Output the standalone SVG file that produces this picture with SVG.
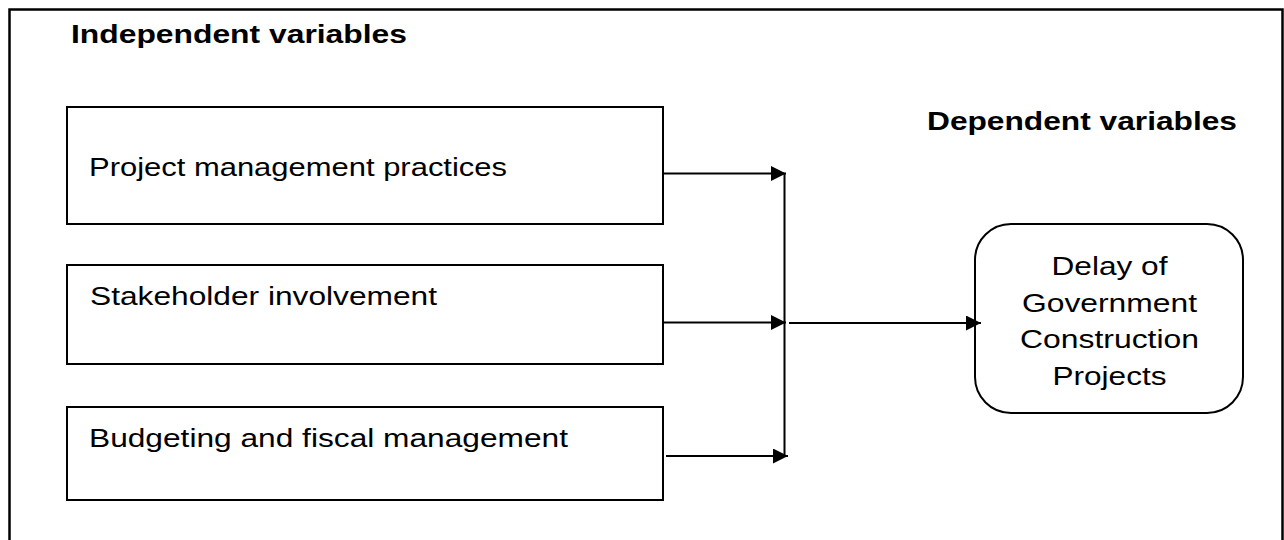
<svg xmlns="http://www.w3.org/2000/svg" width="1284" height="540" viewBox="0 0 1284 540">
<style>
.frame{fill:none;stroke:#000;stroke-width:2.5}
.box{fill:#fff;stroke:#000;stroke-width:2}
.t{font-family:"Liberation Sans",Arial,sans-serif;font-size:26.5px;fill:#000}
.b{font-weight:bold}
.c{text-anchor:middle}
.conn{fill:none;stroke:#000;stroke-width:2}
</style>
<defs>
<marker id="ah" markerWidth="15" markerHeight="15" refX="15" refY="7.5" orient="auto" markerUnits="userSpaceOnUse">
<path d="M0,0 L15,7.5 L0,15 Z" fill="#000"/>
</marker>
</defs>
<rect class="frame" x="9.5" y="9.5" width="1273" height="570"/>
<text class="t b" x="71" y="43" textLength="336" lengthAdjust="spacingAndGlyphs">Independent variables</text>
<text class="t b" x="927" y="130" textLength="310" lengthAdjust="spacingAndGlyphs">Dependent variables</text>
<g id="node-pmp">
<rect class="box" x="67" y="107" width="596" height="117"/>
<text class="t" x="89" y="176" textLength="418" lengthAdjust="spacingAndGlyphs">Project management practices</text>
</g>
<g id="node-si">
<rect class="box" x="67" y="265" width="596" height="99"/>
<text class="t" x="90" y="305" textLength="347" lengthAdjust="spacingAndGlyphs">Stakeholder involvement</text>
</g>
<g id="node-bfm">
<rect class="box" x="67" y="407" width="596" height="93"/>
<text class="t" x="89" y="447" textLength="479" lengthAdjust="spacingAndGlyphs">Budgeting and fiscal management</text>
</g>
<g id="node-delay">
<rect class="box" x="975" y="224" width="268" height="189" rx="36" ry="36"/>
<text class="t c" x="1109.5" y="275" textLength="116" lengthAdjust="spacingAndGlyphs">Delay of</text>
<text class="t c" x="1109.5" y="311.5" textLength="175" lengthAdjust="spacingAndGlyphs">Government</text>
<text class="t c" x="1109.5" y="348" textLength="179" lengthAdjust="spacingAndGlyphs">Construction</text>
<text class="t c" x="1109.5" y="385" textLength="114" lengthAdjust="spacingAndGlyphs">Projects</text>
</g>
<g id="connectors">
<line class="conn" x1="663" y1="173.5" x2="786" y2="173.5" marker-end="url(#ah)"/>
<line class="conn" x1="664" y1="322.5" x2="786" y2="322.5" marker-end="url(#ah)"/>
<line class="conn" x1="666" y1="456" x2="788" y2="456" marker-end="url(#ah)"/>
<line class="conn" x1="784.5" y1="173" x2="784.5" y2="457"/>
<line class="conn" x1="789" y1="323" x2="981" y2="323" marker-end="url(#ah)"/>
</g>
</svg>
